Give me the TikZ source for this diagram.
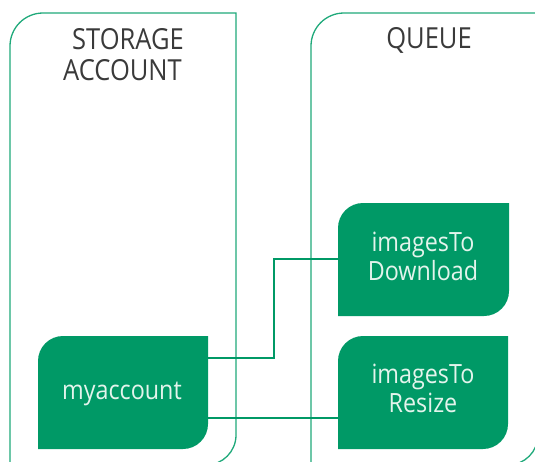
\documentclass[tikz,border=0pt]{standalone}
\usepackage{fontspec}
\setmainfont{Open Sans}[FakeStretch=0.88]
\definecolor{frame}{HTML}{1FA97A}
\definecolor{boxgreen}{HTML}{009966}
\definecolor{boxtext}{HTML}{E3F4EC}
\definecolor{titletext}{HTML}{3A3A3A}
\tikzset{
  container/.style={draw=frame, line width=1.3pt},
  leaf/.style={fill=boxgreen, draw=none},
  leaftext/.style={text=boxtext, font=\fontsize{26.5}{29}\selectfont, align=center, inner sep=0pt},
  title/.style={text=titletext, font=\fontsize{29}{31}\selectfont, align=center, inner sep=0pt},
  link/.style={draw=boxgreen, line width=2.6pt},
}
\newcommand{\leafshape}[4]{% x1 y1 x2 y2 (pt, y downwards)
  \path[leaf] (#1pt,-#2pt) ++(0,-25pt)
    arc[start angle=180,end angle=90,radius=25pt] -- (#3pt,-#2pt) -- (#3pt,-#4pt+25pt)
    arc[start angle=0,end angle=-90,radius=25pt] -- (#1pt,-#4pt) -- cycle;}
\begin{document}
\begin{tikzpicture}[x=1pt,y=1pt]
\useasboundingbox (0,0) rectangle (535,-461);
\begin{scope}
\clip (0,0) rectangle (535,-461);
% containers
\draw[container] (10,-470) -- (10,-46) arc[start angle=180,end angle=90,radius=33] -- (236,-13) -- (236,-435) arc[start angle=0,end angle=-90,radius=30] -- (200,-465);
\draw[container] (311,-470) -- (311,-46) arc[start angle=180,end angle=90,radius=33] -- (538,-13) -- (538,-435) arc[start angle=0,end angle=-90,radius=30] -- (490,-465);
\end{scope}
\node[title, anchor=base] (t1) at (128,-49) {STORAGE};
\node[title, anchor=base] (t1b) at (122.5,-80) {ACCOUNT};
\node[title, anchor=base] (t2) at (429,-48) {QUEUE};
% leaves
\leafshape{38}{336}{208}{449}
\leafshape{338}{203}{509}{316}
\leafshape{338}{336}{508}{449}
\node[inner sep=0pt, minimum width=170pt, minimum height=113pt] (acc) at (123,-392.5) {};
\node[inner sep=0pt, minimum width=171pt, minimum height=113pt] (dl) at (423.5,-259.5) {};
\node[inner sep=0pt, minimum width=170pt, minimum height=113pt] (rs) at (423,-392.5) {};
\node[leaftext, anchor=base] (acct) at (122,-399) {myaccount};
\node[leaftext, anchor=base] (dlt) at (423,-280) {imagesTo\\Download};
\node[leaftext, anchor=base] (rst) at (423,-412) {imagesTo\\Resize};
% links
\coordinate (a1) at (acc.east |- 0,-358);
\coordinate (a2) at (acc.east |- 0,-418);
\draw[link] (a1) -- (274,-358) -- (274,-259) -- (dl.west |- 0,-259);
\draw[link] (a2) -- (rs.west |- 0,-418);
\end{tikzpicture}
\end{document}
